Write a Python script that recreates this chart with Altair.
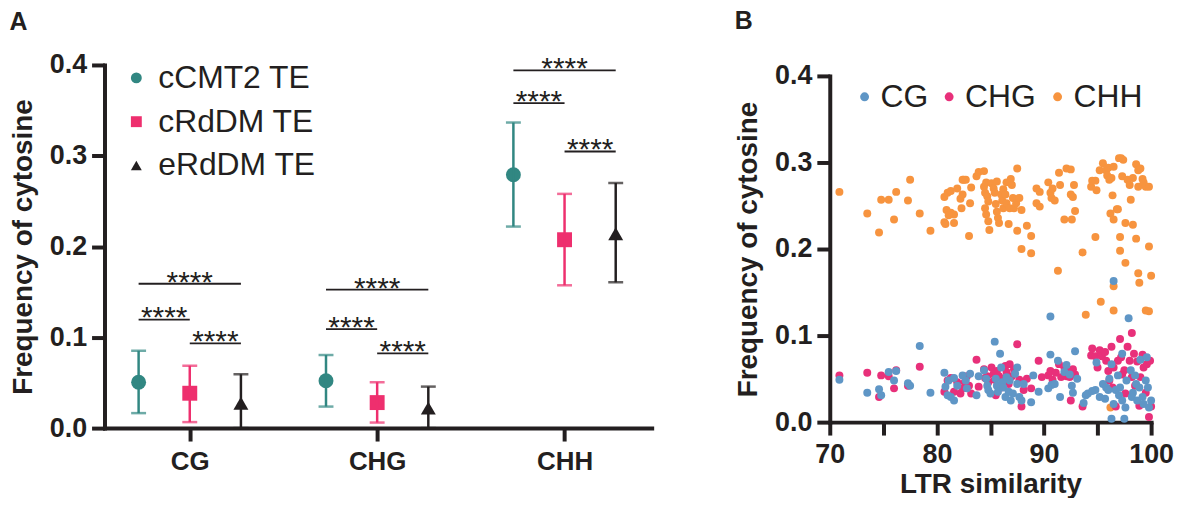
import altair as alt
import pandas as pd

# ---------------- Panel A data ----------------
contexts = ["CG", "CHG", "CHH"]
te_groups = ["cCMT2 TE", "cRdDM TE", "eRdDM TE"]

mean_cCMT2 = [0.0505, 0.0522, 0.279]
lo_cCMT2 = [0.0165, 0.0237, 0.222]
hi_cCMT2 = [0.0852, 0.0805, 0.3366]

mean_cRdDM = [0.0384, 0.0281, 0.2075]
lo_cRdDM = [0.0066, 0.0061, 0.1573]
hi_cRdDM = [0.0687, 0.0505, 0.258]

mean_eRdDM = [0.0274, 0.022, 0.214]
lo_eRdDM = [0.0, 0.0, 0.1606]
hi_eRdDM = [0.0593, 0.0457, 0.270]

sig_context = ["CG", "CG", "CG", "CHG", "CHG", "CHG", "CHH", "CHH", "CHH"]
sig_from = ["cCMT2 TE", "cCMT2 TE", "cRdDM TE"] * 3
sig_to = ["eRdDM TE", "cRdDM TE", "eRdDM TE"] * 3
sig_level = [0.159, 0.1196, 0.0933, 0.1526, 0.109, 0.0823, 0.394, 0.358, 0.3047]
sig_label = ["****"] * 9

# ---------------- Panel B data ----------------
series_names = ["CG", "CHG", "CHH"]

chh_ltr = [70.9, 73.5, 74.6, 74.8, 75.5, 76.0, 76.2, 77.3, 77.5, 78.4, 79.4,
           80.7, 81.0, 81.3, 80.7, 80.8, 81.6, 80.9, 81.3, 81.6, 81.1,
           81.9, 82.2, 82.3, 82.4, 82.4, 82.5, 82.7, 83.0, 83.1, 83.2,
           83.7, 83.9, 84.4, 84.4, 84.6, 84.5, 84.7, 84.8, 84.5, 84.6, 84.8, 84.9,
           85.1, 85.3, 85.4, 85.5, 85.6, 85.6, 85.7, 85.8, 86.0, 86.1, 86.2, 86.2,
           86.4, 86.5, 86.7, 86.5, 86.8, 86.9, 87.0, 87.1, 87.2, 87.4, 87.5, 87.5,
           87.7, 87.9, 87.9, 88.4, 88.8, 88.8,
           89.3, 89.6, 89.3, 89.6, 90.4, 90.6, 90.8, 90.7, 91.0, 91.3, 91.4,
           91.5, 91.9, 92.1, 92.5, 92.6, 92.5, 92.7, 92.8, 92.9, 93.6,
           94.4, 94.5, 94.8, 94.9, 94.8, 95.2, 95.5, 95.8, 95.9, 96.1, 96.0, 96.3,
           96.5, 96.2, 96.4, 96.5, 96.8, 96.9, 97.1, 97.1, 97.0, 97.2, 97.4, 97.3,
           97.6, 97.6, 97.8, 98.0, 98.1, 98.3, 98.3, 98.6, 98.6, 98.8, 99.0, 98.8,
           99.2, 99.3, 99.5, 99.8, 99.8, 98.8, 100.0, 98.9,
           96.5, 95.3, 93.9, 96.5, 99.5, 99.8, 96.2]
chh_freq = [0.266, 0.241, 0.219, 0.257, 0.257, 0.234, 0.266, 0.256, 0.280, 0.241, 0.221,
            0.260, 0.265, 0.267, 0.231, 0.229, 0.230, 0.245, 0.242, 0.240, 0.239,
            0.270, 0.258, 0.247, 0.263, 0.280, 0.280, 0.280, 0.215, 0.253, 0.271,
            0.284, 0.289, 0.290, 0.272, 0.277, 0.265, 0.261, 0.255, 0.247, 0.240, 0.232, 0.222,
            0.276, 0.270, 0.265, 0.252, 0.278, 0.243, 0.236, 0.230, 0.263, 0.256, 0.247, 0.269,
            0.263, 0.277, 0.229, 0.253, 0.247, 0.281, 0.274, 0.259, 0.247, 0.253, 0.293, 0.221,
            0.259, 0.245, 0.200, 0.227, 0.215, 0.195,
            0.270, 0.266, 0.253, 0.249, 0.277, 0.265, 0.270, 0.259, 0.256, 0.175, 0.288,
            0.274, 0.234, 0.293, 0.292, 0.234, 0.263, 0.260, 0.274, 0.244, 0.196,
            0.272, 0.279, 0.279, 0.268, 0.214, 0.291, 0.299, 0.291, 0.285, 0.280, 0.294, 0.282,
            0.295, 0.241, 0.262, 0.234, 0.246, 0.246, 0.214, 0.198, 0.305, 0.305, 0.303, 0.284,
            0.184, 0.230, 0.280, 0.274, 0.257, 0.228, 0.282, 0.212, 0.298, 0.291, 0.293, 0.272,
            0.281, 0.277, 0.272, 0.203, 0.272, 0.172, 0.169, 0.161,
            0.157, 0.139, 0.124, 0.129, 0.129, 0.128, 0.017]

chg_ltr = [70.9, 73.5, 74.6, 74.8, 75.5, 76.0, 76.2, 77.3, 78.4,
           80.7, 81.0, 81.3, 81.6, 81.9, 82.2, 82.4, 82.6, 82.8, 83.0, 83.2,
           83.7, 83.9, 84.4, 84.5, 84.7, 84.8, 85.1, 85.3, 85.4, 85.5, 85.6,
           85.8, 86.0, 86.2, 86.4, 86.5, 86.7, 86.8, 87.0, 87.2, 87.5, 87.7,
           87.9, 88.1, 88.4, 88.8, 89.5, 89.8,
           90.4, 90.6, 90.8, 91.1, 91.4, 91.6, 91.9, 92.1, 92.2, 92.4, 92.5,
           92.7, 92.9, 93.6,
           94.4, 94.5, 94.8, 95.0, 95.2, 95.4, 95.7, 95.8, 96.0, 96.1, 96.3,
           96.4, 96.5, 96.7, 96.9, 97.1, 97.2, 97.3, 97.5, 97.6, 97.8, 98.0,
           98.2, 98.2, 98.4, 98.5, 98.7, 98.9, 99.0, 99.2, 99.3, 99.5, 99.6, 99.8, 99.9,
           100.0]
chg_freq = [0.054, 0.057, 0.029, 0.054, 0.053, 0.039, 0.060, 0.042, 0.064,
            0.035, 0.048, 0.051, 0.035, 0.046, 0.033, 0.039, 0.046, 0.053, 0.042, 0.033,
            0.072, 0.041, 0.061, 0.051, 0.053, 0.046, 0.063, 0.056, 0.049, 0.031, 0.059,
            0.053, 0.040, 0.050, 0.065, 0.058, 0.044, 0.067, 0.053, 0.061, 0.090, 0.049,
            0.018, 0.037, 0.050, 0.039, 0.071, 0.052,
            0.054, 0.059, 0.049, 0.057, 0.067, 0.052, 0.063, 0.053, 0.059, 0.052, 0.025,
            0.061, 0.055, 0.018,
            0.077, 0.085, 0.076, 0.063, 0.083, 0.076, 0.081, 0.071, 0.059, 0.048, 0.087,
            0.040, 0.063, 0.018, 0.071, 0.096, 0.075, 0.055, 0.060, 0.033, 0.087, 0.071,
            0.052, 0.103, 0.079, 0.042, 0.070, 0.019, 0.052, 0.078, 0.063, 0.034, 0.067, 0.006, 0.071,
            0.018]

cg_ltr = [70.9, 73.5, 74.6, 74.8, 75.5, 76.0, 76.2, 77.3, 77.5, 78.4, 79.4,
          80.7, 80.8, 81.0, 81.3, 81.6, 81.1, 81.6, 81.9, 82.4, 82.7, 82.8, 83.1,
          83.7, 83.9, 84.4, 84.6, 84.7, 84.8, 85.0, 85.4, 85.5, 85.6, 85.7, 85.9,
          86.0, 86.1, 86.2, 86.4, 86.5, 86.7, 86.8, 86.9, 87.1, 87.3, 87.5, 87.5,
          87.7, 87.9, 88.1, 88.8, 89.0, 89.5,
          90.6, 90.6, 90.4, 90.7, 91.0, 91.3, 91.5, 91.9, 92.1, 92.4, 92.6, 92.7,
          92.9, 93.1, 93.7, 93.9, 94.1,
          94.5, 94.8, 94.9, 95.2, 95.5, 95.7, 95.8, 96.0, 96.1, 96.3, 96.3, 96.5,
          96.5, 96.7, 96.9, 97.0, 97.1, 97.3, 97.3, 97.5, 97.6, 97.7, 97.9, 98.1,
          98.2, 98.3, 98.5, 98.6, 98.7, 98.9, 99.0, 99.2, 99.3, 99.5, 99.6, 99.7,
          99.8, 100.0]
cg_freq = [0.049, 0.034, 0.038, 0.031, 0.058, 0.048, 0.059, 0.045, 0.042, 0.088, 0.034,
           0.057, 0.041, 0.031, 0.029, 0.025, 0.048, 0.051, 0.042, 0.054, 0.048, 0.039, 0.056,
           0.031, 0.053, 0.060, 0.050, 0.042, 0.037, 0.033, 0.093, 0.050, 0.042, 0.035, 0.079,
           0.063, 0.046, 0.040, 0.029, 0.052, 0.035, 0.048, 0.025, 0.033, 0.056, 0.063, 0.044,
           0.029, 0.025, 0.044, 0.023, 0.054, 0.035,
           0.078, 0.122, 0.039, 0.043, 0.044, 0.071, 0.029, 0.058, 0.066, 0.055, 0.042, 0.034,
           0.082, 0.050, 0.022, 0.031, 0.033,
           0.036, 0.037, 0.069, 0.029, 0.044, 0.027, 0.040, 0.037, 0.050, 0.004, 0.067, 0.163,
           0.021, 0.037, 0.054, 0.031, 0.040, 0.079, 0.025, 0.004, 0.017, 0.048, 0.120, 0.060,
           0.029, 0.034, 0.054, 0.044, 0.025, 0.040, 0.072, 0.029, 0.021, 0.048, 0.075, 0.040,
           0.017, 0.025]

# ---------------- Styles ----------------
INK = "#231F20"
TEAL = "#318782"
PINK_A = "#EE2F6E"
BLUE = "#5F96C6"
PINK_B = "#E8307A"
ORANGE = "#F7943F"
FONT = "Liberation Sans"
group_offset = {"cCMT2 TE": -0.273, "cRdDM TE": 0.0, "eRdDM TE": 0.273}
cat_index = {c: i for i, c in enumerate(contexts)}

# ---------------- Build tables ----------------
rows = []
for g, m, lo, hi in [("cCMT2 TE", mean_cCMT2, lo_cCMT2, hi_cCMT2),
                     ("cRdDM TE", mean_cRdDM, lo_cRdDM, hi_cRdDM),
                     ("eRdDM TE", mean_eRdDM, lo_eRdDM, hi_eRdDM)]:
    for i, c in enumerate(contexts):
        rows.append({"context": c, "group": g, "mean": m[i], "lo": lo[i], "hi": hi[i],
                     "xpos": i + group_offset[g]})
dfA = pd.DataFrame(rows)

dfS = pd.DataFrame({"context": sig_context, "a": sig_from, "b": sig_to,
                    "level": sig_level, "label": sig_label})
dfS["x1"] = [cat_index[c] + group_offset[a] for c, a in zip(sig_context, sig_from)]
dfS["x2"] = [cat_index[c] + group_offset[b] for c, b in zip(sig_context, sig_to)]
dfS["xm"] = (dfS["x1"] + dfS["x2"]) / 2

dfB = pd.concat([
    pd.DataFrame({"series": "CHH", "ltr": chh_ltr, "freq": chh_freq}),
    pd.DataFrame({"series": "CHG", "ltr": chg_ltr, "freq": chg_freq}),
    pd.DataFrame({"series": "CG", "ltr": cg_ltr, "freq": cg_freq}),
], ignore_index=True)
dfB["order"] = range(len(dfB))

# ---------------- Panel A ----------------
def XA(field):
    return alt.X(field, type="quantitative",
                 scale=alt.Scale(domain=[-0.455, 2.465], nice=False, zero=False),
                 axis=alt.Axis(values=[0, 1, 2], labelExpr="['CG','CHG','CHH'][datum.value]",
                               title=None, grid=False, labelFontSize=26, labelPadding=8))

def YA(field):
    return alt.Y(field, type="quantitative",
                 scale=alt.Scale(domain=[0, 0.4], nice=False, zero=True),
                 axis=alt.Axis(values=[0, 0.1, 0.2, 0.3, 0.4], format=".1f",
                               title="Frequency of cytosine", grid=False))

color_scale = alt.Scale(domain=te_groups, range=[TEAL, PINK_A, INK])
shape_scale = alt.Scale(domain=te_groups, range=["circle", "square", "triangle-up"])
legA = alt.Legend(title=None, orient="none", legendX=16, legendY=-3, padding=0,
                  labelFontSize=32, labelFont=FONT, labelColor=INK,
                  symbolSize=120, rowPadding=12, labelOffset=6, symbolStrokeWidth=0)

colA = alt.Color("group:N", scale=color_scale, legend=legA)

base = alt.Chart(dfA)
pts = base.mark_point(filled=True, size=225, opacity=1, strokeWidth=0).encode(
    x=XA("xpos"), y=YA("mean"), color=colA,
    shape=alt.Shape("group:N", scale=shape_scale, legend=legA))
err = base.mark_rule(strokeWidth=2.5).encode(
    x=XA("xpos"), y=YA("lo"), y2="hi:Q", color=colA)
cap_lo = base.mark_tick(orient="horizontal", size=15, thickness=2.5).encode(
    x=XA("xpos"), y=YA("lo"), color=colA)
cap_hi = base.mark_tick(orient="horizontal", size=15, thickness=2.5).encode(
    x=XA("xpos"), y=YA("hi"), color=colA)
sig_lines = alt.Chart(dfS).mark_rule(color=INK, strokeWidth=1.8).encode(
    x=XA("x1"), x2="x2:Q", y=YA("level"))
sig_text = alt.Chart(dfS).mark_text(font=FONT, fontSize=30, color=INK, dy=8,
                                    baseline="alphabetic").encode(
    x=XA("xm"), y=YA("level"), text="label:N")

panelA = alt.layer(pts, err, cap_lo, cap_hi, sig_lines, sig_text).properties(
    width=550, height=365,
    title=alt.TitleParams("A", anchor="start", frame="bounds", fontSize=25,
                          fontWeight="bold", font=FONT, color=INK, offset=16))

# ---------------- Panel B ----------------
legB = alt.Legend(title=None, orient="none", legendX=19, legendY=16, padding=0,
                  direction="horizontal", gridAlign="none",
                  labelFontSize=32, labelFont=FONT, labelColor=INK, symbolType="circle",
                  symbolSize=80, columnPadding=5, labelOffset=0, symbolStrokeWidth=0)
panelB = alt.Chart(dfB).mark_circle(size=64, opacity=1).encode(
    x=alt.X("ltr:Q", scale=alt.Scale(domain=[70, 100], nice=False, zero=False),
            axis=alt.Axis(values=[70, 75, 80, 85, 90, 95, 100],
                          labelExpr="datum.value % 10 == 0 ? datum.label : ''",
                          title="LTR similarity", grid=False, labelPadding=7, titlePadding=3)),
    y=alt.Y("freq:Q", scale=alt.Scale(domain=[0, 0.4], range=[359, 11], nice=False),
            axis=alt.Axis(values=[0, 0.1, 0.2, 0.3, 0.4], format=".1f",
                          title="Frequency of cytosine", grid=False)),
    color=alt.Color("series:N", scale=alt.Scale(domain=series_names,
                                                range=[BLUE, PINK_B, ORANGE]), legend=legB),
    order=alt.Order("order:Q"),
).properties(
    width=323, height=359,
    title=alt.TitleParams("B", anchor="start", frame="bounds", fontSize=25,
                          fontWeight="bold", font=FONT, color=INK, offset=28))

chart = alt.hconcat(panelA, panelB, spacing=83).resolve_scale(
    color="independent", shape="independent", x="independent", y="independent"
).resolve_legend(color="independent", shape="independent").properties(
    padding={"left": 1, "top": 0, "right": 0, "bottom": -2},
    background="white",
).configure_axis(
    domainWidth=4, domainColor=INK, domainCap="square", tickWidth=4, tickColor=INK, tickSize=13,
    labelFont=FONT, labelFontSize=27, labelFontWeight="bold", labelColor=INK, labelPadding=5,
    labelFlush=False, labelOverlap=False,
    titleFont=FONT, titleFontSize=28, titleFontWeight="bold", titleColor=INK, titlePadding=12,
    grid=False
).configure_view(stroke=None)

chart.save("out.html", embed_options={"renderer": "svg", "actions": False})
